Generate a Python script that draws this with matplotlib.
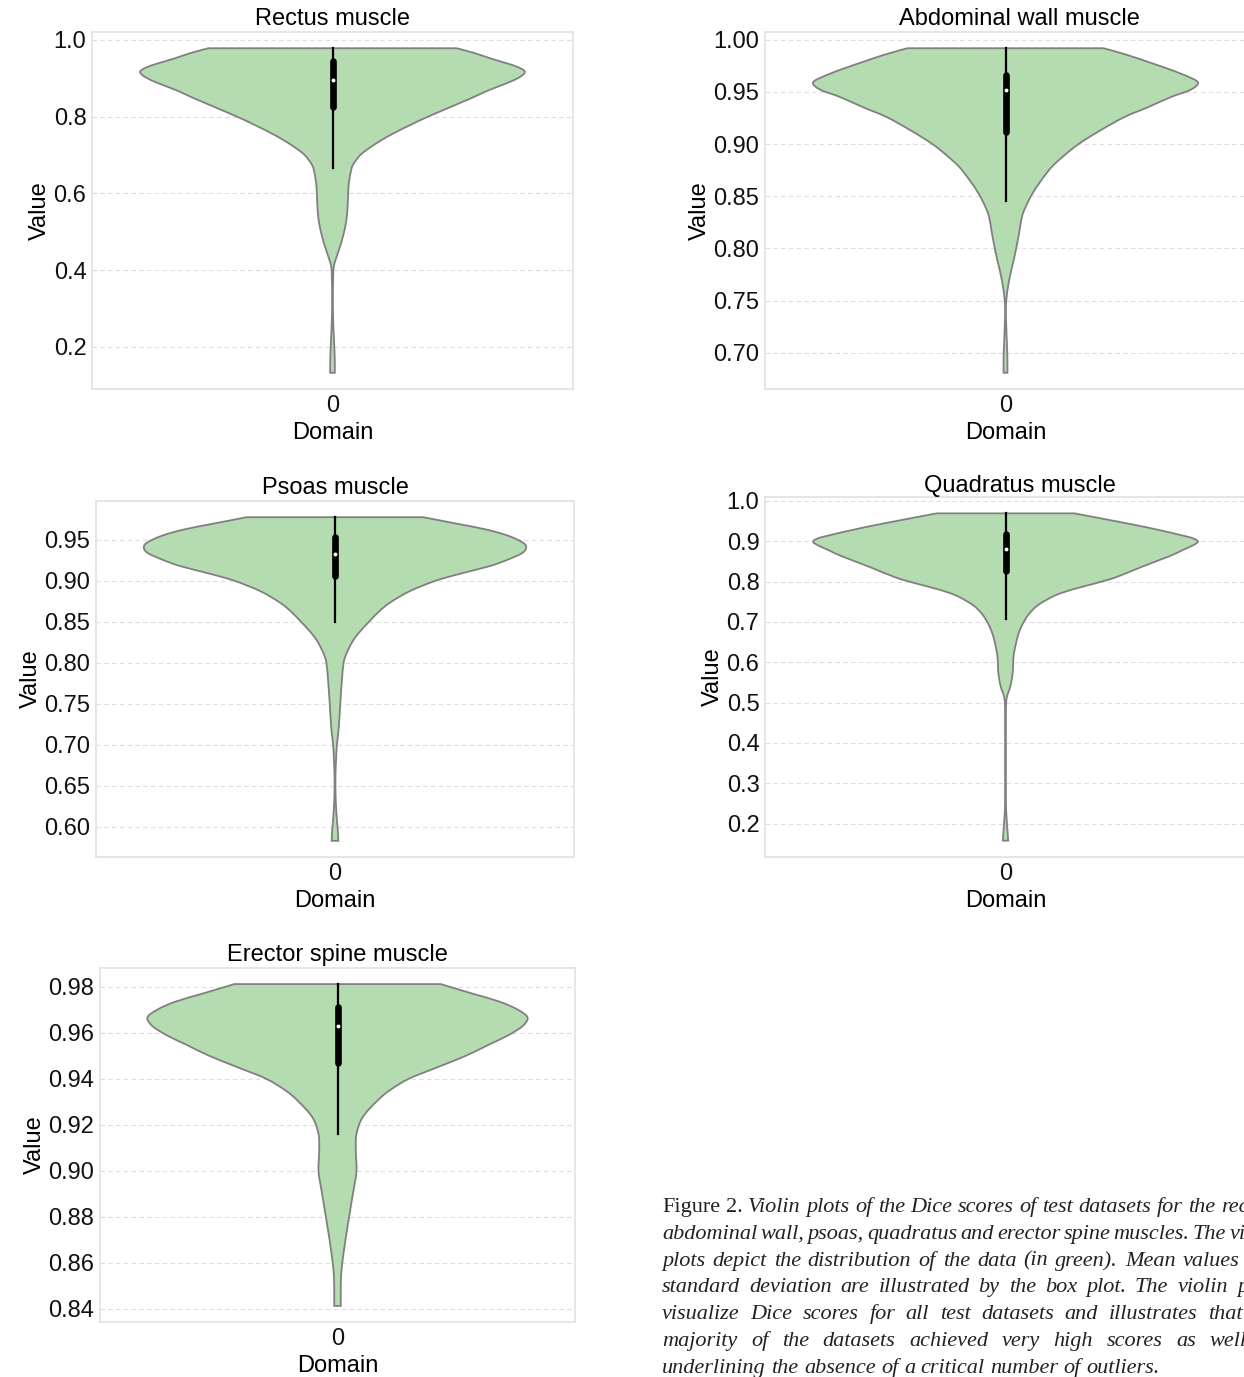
import matplotlib as mpl
mpl.use('Agg')
import matplotlib.pyplot as plt
from matplotlib.path import Path
from matplotlib.patches import PathPatch

plt.rcParams['font.family'] = ['Liberation Sans', 'DejaVu Sans']
plt.rcParams['font.size'] = 17

W, H = 1244, 1377
GREEN = '#b5dcb0'
EDGE = '#808080'

# violin outlines: Dice value -> half width (widest point is 0.4 on the x axis)
rectus_vals = [0.978, 0.965, 0.950, 0.935, 0.925, 0.916, 0.905, 0.893, 0.880, 0.865,
               0.851, 0.830, 0.800, 0.780, 0.757, 0.735, 0.714, 0.700, 0.688, 0.675,
               0.662, 0.627, 0.600, 0.558, 0.524, 0.489, 0.455, 0.429, 0.411, 0.390,
               0.324, 0.280, 0.237, 0.193, 0.158, 0.1325]
rectus_half = [0.258, 0.296, 0.332, 0.372, 0.392, 0.400, 0.392, 0.374, 0.348, 0.318,
               0.294, 0.255, 0.199, 0.165, 0.128, 0.097, 0.072, 0.058, 0.050, 0.043,
               0.039, 0.034, 0.0326, 0.031, 0.028, 0.022, 0.014, 0.007, 0.003, 0.0015,
               0.0008, 0.0012, 0.0024, 0.004, 0.0048, 0.0048]
rectus_box = [0.667, 0.825, 0.896, 0.944, 0.978]
rectus_ticks = [0.2, 0.4, 0.6, 0.8, 1.0]

abdominal_vals = [0.9917, 0.985, 0.978, 0.9736, 0.966, 0.959, 0.952, 0.945, 0.935, 0.926,
                  0.913, 0.900, 0.889, 0.878, 0.865, 0.8526, 0.840, 0.830, 0.814, 0.795,
                  0.785, 0.776, 0.760, 0.744, 0.725, 0.706, 0.694, 0.681]
abdominal_half = [0.204, 0.255, 0.300, 0.328, 0.372, 0.400, 0.385, 0.344, 0.295, 0.248,
                  0.197, 0.152, 0.122, 0.096, 0.074, 0.056, 0.042, 0.034, 0.028, 0.020,
                  0.015, 0.0104, 0.004, 0.0008, 0.0016, 0.0032, 0.004, 0.004]
abdominal_box = [0.845, 0.9115, 0.9516, 0.9656, 0.9917]
abdominal_ticks = [0.70, 0.75, 0.80, 0.85, 0.90, 0.95, 1.00]

psoas_vals = [0.9776, 0.970, 0.9626, 0.955, 0.947, 0.941, 0.934, 0.926, 0.918, 0.909,
              0.900, 0.887, 0.873, 0.862, 0.850, 0.840, 0.830, 0.820, 0.810, 0.800,
              0.780, 0.750, 0.720, 0.700, 0.679, 0.650, 0.618, 0.598, 0.583]
psoas_half = [0.184, 0.252, 0.316, 0.362, 0.392, 0.400, 0.392, 0.362, 0.324, 0.264,
              0.210, 0.155, 0.114, 0.091, 0.071, 0.055, 0.041, 0.031, 0.023, 0.018,
              0.0146, 0.011, 0.0077, 0.004, 0.002, 0.0008, 0.0028, 0.0056, 0.007]
psoas_box = [0.850, 0.906, 0.933, 0.953, 0.9776]
psoas_ticks = [0.60, 0.65, 0.70, 0.75, 0.80, 0.85, 0.90, 0.95]

quadratus_vals = [0.969, 0.955, 0.934, 0.915, 0.907, 0.899, 0.890, 0.878, 0.864, 0.835,
                  0.810, 0.795, 0.780, 0.765, 0.742, 0.720, 0.700, 0.680, 0.658, 0.617,
                  0.575, 0.542, 0.517, 0.500, 0.460, 0.335, 0.253, 0.212, 0.185, 0.158]
quadratus_half = [0.143, 0.205, 0.295, 0.365, 0.390, 0.400, 0.390, 0.368, 0.343, 0.280,
                  0.228, 0.185, 0.138, 0.102, 0.068, 0.049, 0.038, 0.030, 0.024, 0.017,
                  0.015, 0.0104, 0.0035, 0.0014, 0.0008, 0.0008, 0.0008, 0.0024, 0.004, 0.0056]
quadratus_box = [0.707, 0.825, 0.881, 0.918, 0.969]
quadratus_ticks = [0.2, 0.3, 0.4, 0.5, 0.6, 0.7, 0.8, 0.9, 1.0]

erector_vals = [0.9812, 0.977, 0.9735, 0.970, 0.9667, 0.963, 0.959, 0.955, 0.950, 0.945,
                0.940, 0.935, 0.9305, 0.9233, 0.916, 0.909, 0.900, 0.893, 0.887, 0.880,
                0.873, 0.866, 0.858, 0.851, 0.8412]
erector_half = [0.217, 0.285, 0.342, 0.380, 0.400, 0.390, 0.360, 0.320, 0.270, 0.210,
                0.150, 0.110, 0.084, 0.053, 0.040, 0.0385, 0.040, 0.035, 0.030, 0.0246,
                0.019, 0.014, 0.009, 0.007, 0.007]
erector_box = [0.9158, 0.947, 0.9629, 0.9713, 0.9812]
erector_ticks = [0.84, 0.86, 0.88, 0.90, 0.92, 0.94, 0.96, 0.98]

caption_lines = [
    "Figure 2. Violin plots of the Dice scores of test datasets for the rectus,",
    "abdominal wall, psoas, quadratus and erector spine muscles. The violin",
    "plots depict the distribution of the data (in green). Mean values and",
    "standard deviation are illustrated by the box plot. The violin plots",
    "visualize Dice scores for all test datasets and illustrates that the",
    "majority of the datasets achieved very high scores as well as",
    "underlining the absence of a critical number of outliers.",
]

fig = plt.figure(figsize=(W / 100, H / 100), dpi=100)


def px_axes(x0, y0, x1, y1):
    return fig.add_axes([x0 / W, 1 - y1 / H, (x1 - x0) / W, (y1 - y0) / H])


def curve_through(pts):
    # cubic bezier segments through the outline points (catmull-rom tangents)
    verts = []
    n = len(pts)
    for i in range(n - 1):
        p0, p1 = pts[max(i - 1, 0)], pts[i]
        p2, p3 = pts[i + 1], pts[min(i + 2, n - 1)]
        verts.append((p1[0] + (p2[0] - p0[0]) / 6, p1[1] + (p2[1] - p0[1]) / 6))
        verts.append((p2[0] - (p3[0] - p1[0]) / 6, p2[1] - (p3[1] - p1[1]) / 6))
        verts.append(p2)
    return verts


def violin_patch(vals, half):
    right = [(w, v) for v, w in zip(vals, half)]
    left = [(-w, v) for v, w in zip(vals, half)][::-1]
    verts = [right[0]] + curve_through(right) + [left[0]] + curve_through(left) + [right[0]]
    codes = ([Path.MOVETO] + [Path.CURVE4] * (3 * (len(right) - 1)) + [Path.LINETO]
             + [Path.CURVE4] * (3 * (len(left) - 1)) + [Path.CLOSEPOLY])
    return PathPatch(Path(verts, codes), facecolor=GREEN, edgecolor=EDGE, lw=1.3, zorder=2)


def violin(ax, vals, half, box, ticks, title, title_x=0.5, title_pad=5):
    ax.add_patch(violin_patch(vals, half))
    lo, q1, med, q3, hi = box
    ax.plot([0, 0], [lo, hi], color='black', lw=1.6, zorder=3)
    ax.plot([0, 0], [q1, q3], color='black', lw=4.8, solid_capstyle='round', zorder=3)
    ax.plot([0], [med], 'o', ms=2.8, mfc='white', mec='none', zorder=4)
    ax.set_ylim(min(vals) - 0.05 * (max(vals) - min(vals)),
                max(vals) + 0.05 * (max(vals) - min(vals)))
    ax.set_xlim(-0.5, 0.5)
    ax.set_yticks(ticks)
    ax.set_xticks([0])
    ax.set_xticklabels(['0'])
    ax.set_xlabel('Domain', labelpad=4)
    ax.set_ylabel('Value', labelpad=2)
    ax.set_title(title, x=title_x, pad=title_pad, fontsize=17)
    ax.grid(axis='y', color='#dedede', ls=(0, (4, 3)), lw=0.8)
    ax.set_axisbelow(True)
    for s in ax.spines.values():
        s.set_color('#e2e2e2')
        s.set_linewidth(1.2)
    ax.tick_params(length=0, pad=4, colors='#111111')


violin(px_axes(92, 32, 573, 389), rectus_vals, rectus_half, rectus_box,
       rectus_ticks, 'Rectus muscle')
violin(px_axes(765, 32, 1246, 389), abdominal_vals, abdominal_half, abdominal_box,
       abdominal_ticks, 'Abdominal wall muscle', title_x=0.53)
violin(px_axes(96, 501, 574, 857), psoas_vals, psoas_half, psoas_box,
       psoas_ticks, 'Psoas muscle')
violin(px_axes(765, 497, 1246, 857), quadratus_vals, quadratus_half, quadratus_box,
       quadratus_ticks, 'Quadratus muscle', title_x=0.53, title_pad=2)
violin(px_axes(100, 968, 575, 1322), erector_vals, erector_half, erector_box,
       erector_ticks, 'Erector spine muscle')

# justified caption, lines run past the right edge of the page
renderer = fig.canvas.get_renderer()
left, right, base, step = 662, 1280, 1212, 26.8
for i, line in enumerate(caption_lines):
    words = line.split()
    texts = []
    for j, w in enumerate(words):
        style = 'normal' if (i == 0 and j < 2) else 'italic'
        texts.append(fig.text(0, 1 - (base + i * step) / H, w, family='Liberation Serif',
                              style=style, fontsize=16, va='baseline', color='#222222'))
    widths = [t.get_window_extent(renderer).width for t in texts]
    if i < len(caption_lines) - 1:
        gap = (right - left - sum(widths)) / (len(words) - 1)
    else:
        gap = 16 * 100 / 72 * 0.25
    x = left
    for t, w in zip(texts, widths):
        t.set_x(x / W)
        x += w + gap

fig.savefig('out.png', dpi=100)
